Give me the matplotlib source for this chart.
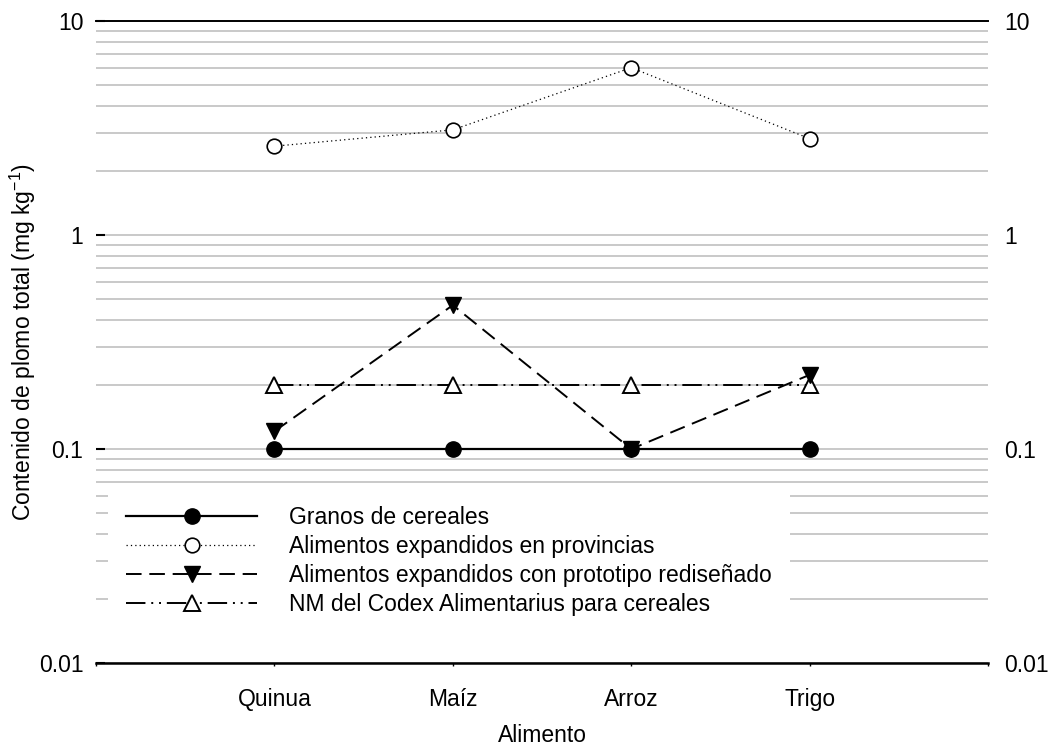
import matplotlib
matplotlib.use("Agg")
import matplotlib.pyplot as plt
from matplotlib.ticker import FixedLocator, FixedFormatter, NullFormatter

plt.rcParams['font.family'] = ['Liberation Sans', 'DejaVu Sans']

categories = ["Quinua", "Maíz", "Arroz", "Trigo"]
granos = [0.1, 0.1, 0.1, 0.1]
provincias = [2.6, 3.1, 6.05, 2.82]
prototipo = [0.121, 0.47, 0.1, 0.222]
codex = [0.2, 0.2, 0.2, 0.2]

labels = ["Granos de cereales",
          "Alimentos expandidos en provincias",
          "Alimentos expandidos con prototipo rediseñado",
          "NM del Codex Alimentarius para cereales"]
ytick_vals = [0.01, 0.1, 1, 10]
ytick_labels = ["0.01", "0.1", "1", "10"]

FS = 16.5
W, H = 1053, 752
fig = plt.figure(figsize=(W / 100, H / 100), dpi=100)
L, R, T, B = 96, 988, 21, 663
ax = fig.add_axes([L / W, 1 - B / H, (R - L) / W, (B - T) / H])

x = list(range(1, len(categories) + 1))

ax.plot(x, granos, color='black', lw=1.6, marker='o', ms=11,
        mfc='black', mec='black', label=labels[0], zorder=4)
ax.plot(x, provincias, color='black', lw=0.9, ls=(0, (1, 2.5)), marker='o', ms=10.5,
        mfc='white', mec='black', mew=1.2, label=labels[1], zorder=4)
ax.plot(x, prototipo, color='black', lw=1.4, ls=(0, (8, 4)), marker='v', ms=11.5,
        mfc='black', mec='black', label=labels[2], zorder=4)
ax.plot(x, codex, color='black', lw=1.4, ls=(0, (10, 3, 1, 3, 1, 3)), marker='^', ms=11,
        mfc='white', mec='black', mew=1.4, label=labels[3], zorder=3)

ax.set_yscale('log')
ax.set_ylim(0.01, 10)
ax.set_xlim(0, len(categories) + 1)

# y ticks
ax.yaxis.set_major_locator(FixedLocator(ytick_vals))
ax.yaxis.set_major_formatter(FixedFormatter(ytick_labels))
ax.yaxis.set_minor_formatter(NullFormatter())
ax.tick_params(axis='y', which='major', direction='in', length=6.5, width=1.5,
               color='black', labelsize=FS, pad=9, right=False)
ax.tick_params(axis='y', which='minor', length=0)

# right labels
ax2 = ax.twinx()
ax2.set_yscale('log')
ax2.set_ylim(0.01, 10)
ax2.yaxis.set_major_locator(FixedLocator(ytick_vals))
ax2.yaxis.set_major_formatter(FixedFormatter(ytick_labels))
ax2.yaxis.set_minor_formatter(NullFormatter())
ax2.tick_params(axis='y', which='both', length=0, labelsize=FS, pad=11.5)
for s in ax2.spines.values():
    s.set_visible(False)

# x ticks
ax.set_xticks(range(0, len(categories) + 2))
ax.set_xticklabels([""] + categories + [""])
ax.tick_params(axis='x', direction='out', length=2, width=1, color='black',
               labelsize=FS, pad=16)

# grid
ax.grid(True, which='both', axis='y', color='#c0c0c0', lw=1.2)
ax.set_axisbelow(True)

for side in ['left', 'right']:
    ax.spines[side].set_visible(False)
ax.spines['top'].set_linewidth(1.4)
ax.spines['bottom'].set_linewidth(1.8)

ax.set_xlabel("Alimento", fontsize=FS)
ax.xaxis.set_label_coords(0.5, -(735 - B) / (B - T))
ax.xaxis.label.set_verticalalignment('center')
ax.set_ylabel(r"Contenido de plomo total (mg kg$\mathregular{^{-1}}$)", fontsize=FS)
ax.yaxis.set_label_coords(-(L - 23) / (R - L), 0.5)
ax.yaxis.label.set_verticalalignment('center')

leg = ax.legend(loc='upper left', bbox_to_anchor=((108 - L) / (R - L), (B - 488) / (B - T)),
                borderaxespad=0, fontsize=FS, frameon=True, fancybox=False,
                edgecolor='white', facecolor='white', framealpha=1,
                handlelength=5.7, handletextpad=1.4, borderpad=0.8, labelspacing=0.26,
                numpoints=1)
leg.get_frame().set_linewidth(0)

fig.savefig("out.png", dpi=100)
